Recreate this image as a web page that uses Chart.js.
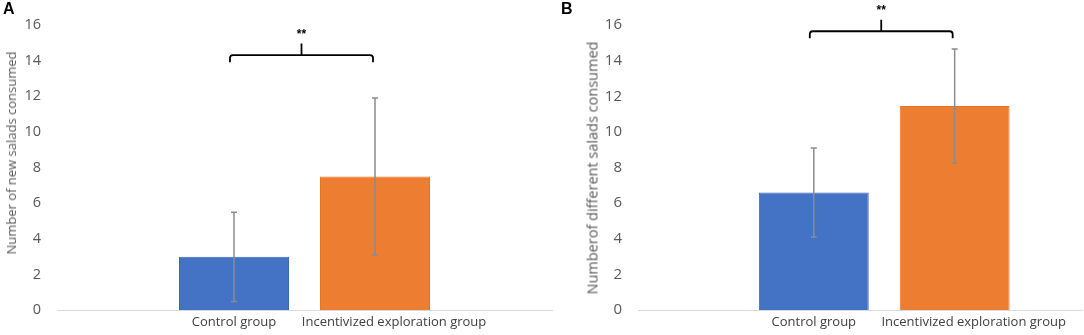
<!DOCTYPE html>
<html>
<head>
<meta charset="utf-8">
<script src="https://cdn.jsdelivr.net/npm/chart.js"></script>
<style>
  html, body { margin: 0; padding: 0; background: #fff; }
  body { width: 1084px; height: 335px; position: relative; overflow: hidden; }
  .panel { position: absolute; top: 0; height: 335px; }
  .letter { position: absolute; top: 0; font: bold 16px "Liberation Sans", Arial, sans-serif; color: #000; }
  .ytitle {
    position: absolute; white-space: nowrap; color: #595959;
    font-family: "Open Sans", "Liberation Sans", sans-serif;
    transform: translate(-50%, -50%) rotate(-90deg);
  }
</style>
</head>
<body>
<div class="panel" style="left:0;width:556px"><canvas id="chartA"></canvas></div>
<div class="panel" style="left:581px;width:503px"><canvas id="chartB"></canvas></div>
<div class="letter" style="left:3px">A</div>
<div class="letter" style="left:561px">B</div>
<div class="ytitle" style="left:11px;top:153px;font-size:13px">Number of new salads consumed</div>
<div class="ytitle" style="left:592px;top:168px;font-size:14.5px">Numberof different salads consumed</div>
<script>
// values (mean and SD per group)
const groups = ['Control group', 'Incentivized exploration group'];
const groupPos = [1, 2];
const newSalads = [3.0, 7.5];
const newSaladsSd = [2.5, 4.4];
const diffSalads = [6.6, 11.45];
const diffSaladsSd = [2.5, 3.2];
const yTicks = [0, 2, 4, 6, 8, 10, 12, 14, 16];

const barColors = ['#4472C4', '#ED7D31'];
const barEdges = ['#3A66B8', '#E8731F'];
const FONT = '"Open Sans", "Liberation Sans", sans-serif';
// the long label sits a bit right of its bar in the original
const labelShift = [0, 0.135];

// error bars, significance bracket and stars
const annotate = {
  id: 'annotate',
  afterDatasetsDraw(chart, args, opts) {
    const ctx = chart.ctx;
    const y = chart.scales.y;
    const bars = chart.getDatasetMeta(0).data;
    ctx.save();
    ctx.strokeStyle = '#8c8c8c';
    ctx.lineWidth = 1.5;
    bars.forEach((bar, i) => {
      const hi = y.getPixelForValue(opts.mean[i] + opts.sd[i]);
      const lo = y.getPixelForValue(opts.mean[i] - opts.sd[i]);
      ctx.beginPath();
      ctx.moveTo(bar.x, hi); ctx.lineTo(bar.x, lo);
      ctx.moveTo(bar.x - 3, hi); ctx.lineTo(bar.x + 3, hi);
      ctx.moveTo(bar.x - 3, lo); ctx.lineTo(bar.x + 3, lo);
      ctx.stroke();
    });

    const lvl = opts.level;
    const x1 = bars[0].x - 4;
    const x2 = bars[1].x - 2;
    const xm = (x1 + x2) / 2;
    const yb = y.getPixelForValue(lvl);
    const ye = y.getPixelForValue(lvl - 0.4);
    const yt = y.getPixelForValue(lvl + 0.65);
    ctx.strokeStyle = '#000';
    ctx.lineWidth = 1.8;
    ctx.lineJoin = 'round';
    ctx.beginPath();
    ctx.moveTo(x1, ye);
    ctx.arcTo(x1, yb, x1 + 4, yb, 3);
    ctx.lineTo(x2 - 4, yb);
    ctx.arcTo(x2, yb, x2, ye, 3);
    ctx.lineTo(x2, ye);
    ctx.moveTo(xm, yb);
    ctx.lineTo(xm, yt);
    ctx.stroke();

    ctx.fillStyle = '#000';
    ctx.font = 'bold 12px "Liberation Sans", Arial, sans-serif';
    ctx.textAlign = 'center';
    ctx.textBaseline = 'middle';
    ctx.fillText('**', xm, y.getPixelForValue(lvl + 1.25) + 2);
    ctx.restore();
  }
};

function makeChart(id, values, sd, xMin, xMax, level, padRight, tickSize) {
  const tickVals = groupPos.map((v, i) => v + labelShift[i]);
  return new Chart(document.getElementById(id), {
    type: 'bar',
    data: {
      datasets: [{
        data: groupPos.map((x, i) => ({ x, y: values[i] })),
        backgroundColor: barColors,
        borderColor: barEdges,
        borderWidth: 1,
        categoryPercentage: 1,
        barPercentage: 0.78,
      }],
    },
    options: {
      responsive: true,
      maintainAspectRatio: false,
      animation: false,
      events: [],
      layout: { padding: { top: 24, right: padRight, left: 0, bottom: 0 } },
      plugins: {
        legend: { display: false },
        tooltip: { enabled: false },
        annotate: { mean: values, sd, level },
      },
      scales: {
        x: {
          type: 'linear',
          min: xMin,
          max: xMax,
          offset: false,
          grid: { display: false, drawTicks: false },
          border: { display: true, color: '#d9d9d9', width: 1 },
          afterBuildTicks: (s) => { s.ticks = tickVals.map((v) => ({ value: v })); },
          afterFit: (s) => { s.height = 23; },
          ticks: {
            autoSkip: false,
            maxRotation: 0,
            padding: 4,
            color: '#404040',
            font: { family: FONT, size: 13 },
            callback: (v) => groups[tickVals.indexOf(v)] || '',
          },
        },
        y: {
          min: 0,
          max: 16,
          grid: { display: false, drawTicks: false },
          border: { display: false },
          afterBuildTicks: (s) => { s.ticks = yTicks.map((v) => ({ value: v })); },
          afterFit: (s) => { s.width = 57; },
          ticks: {
            padding: 16,
            color: '#595959',
            font: { family: FONT, size: tickSize },
          },
        },
      },
    },
    plugins: [annotate],
  });
}

makeChart('chartA', newSalads, newSaladsSd, -0.255, 3.255, 14.3, 4, 14.5);
makeChart('chartB', diffSalads, diffSaladsSd, -0.248, 2.904, 15.65, 2, 15);
</script>
</body>
</html>
